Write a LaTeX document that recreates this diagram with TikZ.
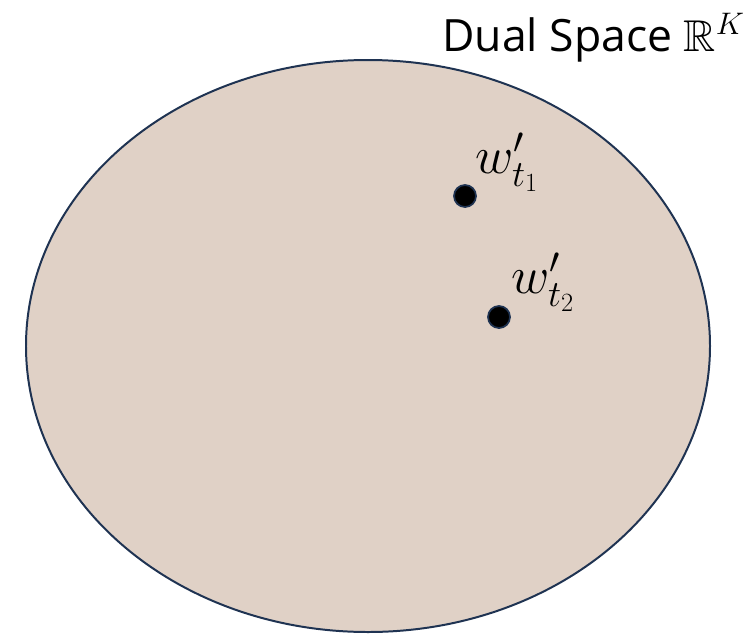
\RequirePackage{fix-cm}
\documentclass[tikz,border=0pt]{standalone}
\usepackage{amsmath,amssymb}
\usepackage{fontspec}
\setmainfont{Open Sans}
\usetikzlibrary{positioning,shapes.geometric}
\definecolor{SpaceFill}{HTML}{E0D1C6}
\definecolor{SpaceLine}{HTML}{1F3352}

\begin{document}
\begin{tikzpicture}[x=0.03cm,y=-0.03cm,
        region/.style={ellipse,draw=SpaceLine,fill=SpaceFill,line width=1.7pt,
                       inner sep=0pt,minimum width=684*0.03cm,minimum height=572*0.03cm},
        point/.style={circle,fill=black,draw=SpaceLine,line width=1.5pt,
                      inner sep=0pt,minimum size=22*0.03cm},
        tag/.style={font=\fontsize{45}{52}\selectfont,inner sep=0pt}]
      \useasboundingbox (0,0) rectangle (753,634);
      \node[region] (space) at (368,346) {};
      \node[anchor=base east,font=\fontsize{38}{45}\selectfont,inner sep=0pt]
        (title) at (745,51) {Dual Space $\mathbb{R}^{K}$};
      \node[point] (p1) at (465,196) {};
      \node[point] (p2) at (499,317) {};
      \node[tag,anchor=base west] (l1) at (475,173) {$w'_{t_1}$};
      \node[tag,anchor=base west] (l2) at (511,293) {$w'_{t_2}$};
    \end{tikzpicture}
\end{document}
